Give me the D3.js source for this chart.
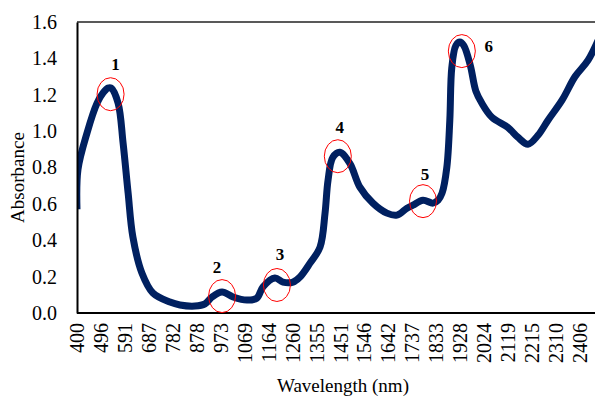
<!DOCTYPE html>
<html>
<head>
<meta charset="utf-8">
<script src="https://cdn.jsdelivr.net/npm/d3@7"></script>
<style>
  html, body { margin: 0; padding: 0; background: #fff; }
  svg { display: block; }
  text { font-family: "Liberation Serif", "Times New Roman", serif; fill: #000; }
</style>
</head>
<body>
<svg id="chart" width="595" height="396"></svg>
<script>
// ---- data ----
const wavelength = [400, 404, 440, 480, 504, 524, 536, 564, 584, 604, 623, 659, 703, 771, 811, 871, 911, 939, 979, 1023, 1078, 1118, 1142, 1190, 1222, 1262, 1290, 1330, 1370, 1390, 1402, 1421, 1449, 1489, 1529, 1581, 1637, 1677, 1717, 1741, 1781, 1821, 1841, 1857, 1876, 1888, 1896, 1912, 1928, 1944, 1970, 1992, 2016, 2056, 2120, 2160, 2200, 2240, 2280, 2336, 2388, 2440, 2490];
const absorbance = [0.57, 0.79, 0.99, 1.154, 1.21, 1.237, 1.237, 1.154, 0.934, 0.66, 0.418, 0.22, 0.11, 0.06, 0.044, 0.038, 0.05, 0.088, 0.115, 0.088, 0.071, 0.082, 0.143, 0.192, 0.17, 0.17, 0.198, 0.274, 0.362, 0.549, 0.73, 0.856, 0.884, 0.823, 0.692, 0.604, 0.549, 0.538, 0.576, 0.593, 0.62, 0.604, 0.62, 0.659, 0.80, 1.06, 1.35, 1.47, 1.49, 1.47, 1.36, 1.22, 1.153, 1.076, 1.02, 0.966, 0.928, 0.977, 1.06, 1.17, 1.30, 1.39, 1.53];
const xTickLabels = [400, 496, 591, 687, 782, 878, 973, 1069, 1164, 1260, 1355, 1451, 1546, 1642, 1737, 1833, 1928, 2024, 2119, 2215, 2310, 2406];
const yTickLabels = [0.0, 0.2, 0.4, 0.6, 0.8, 1.0, 1.2, 1.4, 1.6];
const peakLabels = ["1", "2", "3", "4", "5", "6"];
const peakNm = [534, 979, 1198, 1441, 1781, 1936];
const peakAbs = [1.203, 0.093, 0.154, 0.862, 0.615, 1.44];

// ---- layout ----
const mLeft = 77, mTop = 22, mRight = 595, mBottom = 313;
const svg = d3.select("#chart");

const x = d3.scaleLinear().domain([400, 2467.5]).range([mLeft, mRight]);
const y = d3.scaleLinear().domain([0, 1.6]).range([mBottom, mTop]);

// frame (top border)
svg.append("line").attr("x1", mLeft).attr("x2", mRight + 2).attr("y1", mTop).attr("y2", mTop)
  .attr("stroke", "#222").attr("stroke-width", 1.6);

// clip
svg.append("defs").append("clipPath").attr("id", "clip")
  .append("rect").attr("x", mLeft).attr("y", mTop - 10).attr("width", mRight - mLeft).attr("height", mBottom - mTop + 10);

// curve
const data = wavelength.map((w, i) => [w, absorbance[i]]);
const line = d3.line().x(d => x(d[0])).y(d => y(d[1])).curve(d3.curveCatmullRom.alpha(0.5));
svg.append("path").datum(data)
  .attr("clip-path", "url(#clip)")
  .attr("d", line)
  .attr("fill", "none")
  .attr("stroke", "#002060")
  .attr("stroke-width", 7)
  .attr("stroke-linejoin", "round")
  .attr("stroke-linecap", "butt");

// axes
const yAxis = d3.axisLeft(y).tickValues(yTickLabels).tickFormat(d3.format(".1f")).tickSize(0).tickPadding(20);
const gy = svg.append("g").attr("transform", `translate(${mLeft},0)`).call(yAxis);
gy.attr("font-size", null).attr("font-family", null);
gy.select(".domain").attr("stroke", "#000").attr("stroke-width", 2);
gy.selectAll("text").style("font-size", "20px").style("font-family", "'Liberation Serif'");

const xAxis = d3.axisBottom(x).tickValues(xTickLabels).tickFormat(d3.format("d")).tickSize(0);
const gx = svg.append("g").attr("transform", `translate(0,${mBottom})`).call(xAxis);
gx.attr("font-size", null).attr("font-family", null);
gx.select(".domain").attr("stroke", "#000").attr("stroke-width", 2.2).attr("d", `M${mLeft},0H${mRight + 2}`);
gx.selectAll("text")
  .style("font-size", "20px").style("font-family", "'Liberation Serif'")
  .attr("transform", "rotate(-90)")
  .attr("text-anchor", "end")
  .attr("x", -10).attr("y", 0).attr("dy", "0.34em");

// peak annotations
const labelOffsets = [[5, -24], [-5, -23], [3, -25], [2, -23], [2, -21], [27, 1]];
peakLabels.forEach((lab, i) => {
  const cx = x(peakNm[i]), cy = y(peakAbs[i]);
  svg.append("ellipse").attr("cx", cx).attr("cy", cy).attr("rx", 13.5).attr("ry", 16.5)
    .attr("fill", "none").attr("stroke", "#ff0000").attr("stroke-width", 1);
  svg.append("text").attr("x", cx + labelOffsets[i][0]).attr("y", cy + labelOffsets[i][1])
    .attr("text-anchor", "middle").style("font-size", "17px").attr("font-weight", "bold").text(lab);
});

// axis titles
svg.append("text").attr("transform", `translate(24,${(mTop + mBottom) / 2 + 10}) rotate(-90)`)
  .attr("text-anchor", "middle").style("font-size", "19px").text("Absorbance");
svg.append("text").attr("x", 343).attr("y", 392)
  .attr("text-anchor", "middle").style("font-size", "19px").text("Wavelength (nm)");
</script>
</body>
</html>
